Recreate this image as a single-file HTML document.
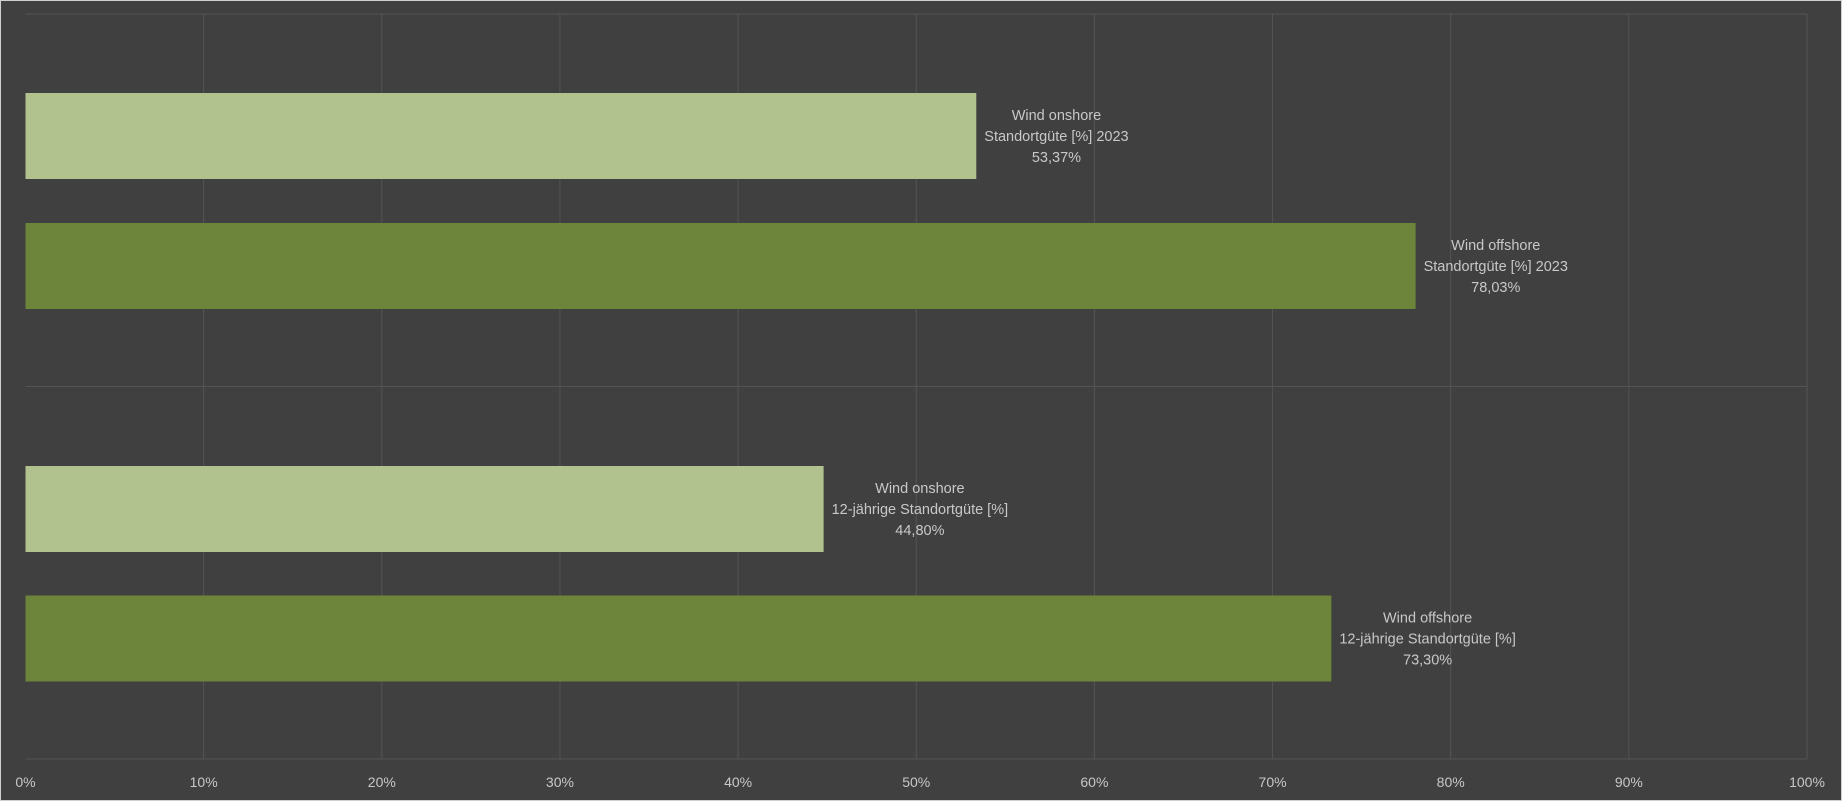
<!DOCTYPE html>
<html><head><meta charset="utf-8"><style>
html,body{margin:0;padding:0;background:#404040;}
svg{display:block;font-family:"Liberation Sans",sans-serif;}
</style></head><body>
<svg id="chart" width="1842" height="801">
<rect x="0.5" y="0.5" width="1841" height="800" fill="#404040" stroke="#d0d0d0"/>
<g id="grid"></g><g id="bars"></g><g id="labels"></g><g id="ticks"></g>
</svg>
<script>
const categories = [
 ["Wind onshore","Standortgüte [%] 2023"],
 ["Wind offshore","Standortgüte [%] 2023"],
 ["Wind onshore","12-jährige Standortgüte [%]"],
 ["Wind offshore","12-jährige Standortgüte [%]"]
];
const values = [53.37, 78.03, 44.80, 73.30];
const valueLabels = ["53,37%","78,03%","44,80%","73,30%"];
const tickValues = [0,10,20,30,40,50,60,70,80,90,100];
const tickLabels = ["0%","10%","20%","30%","40%","50%","60%","70%","80%","90%","100%"];

const NS="http://www.w3.org/2000/svg";
const x0=25.5,x1=1807,yTop=14,yBot=759;
const xs=v=>x0+(x1-x0)*v/100;
const barTop=[93,223,466,595.5], barH=86;
const colors=["#b1c28f","#6d853a","#b1c28f","#6d853a"];
function mk(t,a,p){const e=document.createElementNS(NS,t);for(const k in a)e.setAttribute(k,a[k]);p.appendChild(e);return e;}
const grid=document.getElementById('grid');
tickValues.forEach((v,i)=>{
 const l=mk('line',{x1:xs(v),x2:xs(v),y1:yTop,y2:yBot,stroke:i==0?"#404040":"#545454","stroke-width":1},grid);
 
 
 const t=mk('text',{x:xs(v),y:787,"text-anchor":"middle",fill:"#c8c8c8","font-size":14},document.getElementById('ticks'));
 t.textContent=tickLabels[i];
 
 
});
const h1=mk('line',{x1:xs(0),x2:x1,y1:yTop,y2:yTop,stroke:"#545454"},grid);


const h2=mk('line',{x1:xs(0),x2:x1,y1:386.5,y2:386.5,stroke:"#545454"},grid);


const h3=mk('line',{x1:xs(0),x2:x1,y1:yBot,y2:yBot,stroke:"#545454"},grid);


values.forEach((v,i)=>{
 const r=mk('rect',{x:xs(0),y:barTop[i],width:xs(v)-xs(0),height:barH,fill:colors[i]},document.getElementById('bars'));
 
 
 const cy=barTop[i]+barH/2;
 const t=mk('text',{x:0,y:cy-21+5,"text-anchor":"middle",fill:"#c8c8c8","font-size":14.5},document.getElementById('labels'));
 
 
 const spans=[categories[i][0],categories[i][1],valueLabels[i]].map((s,j)=>{
  const ts=mk('tspan',{x:0,dy:j?21:0},t);ts.textContent=s;return ts;
 });
 let w=0;spans.forEach(s=>{w=Math.max(w,s.getComputedTextLength());});
 const cx=xs(v)+8+w/2;
 spans.forEach(s=>s.setAttribute('x',cx));
});
</script>
</body></html>
